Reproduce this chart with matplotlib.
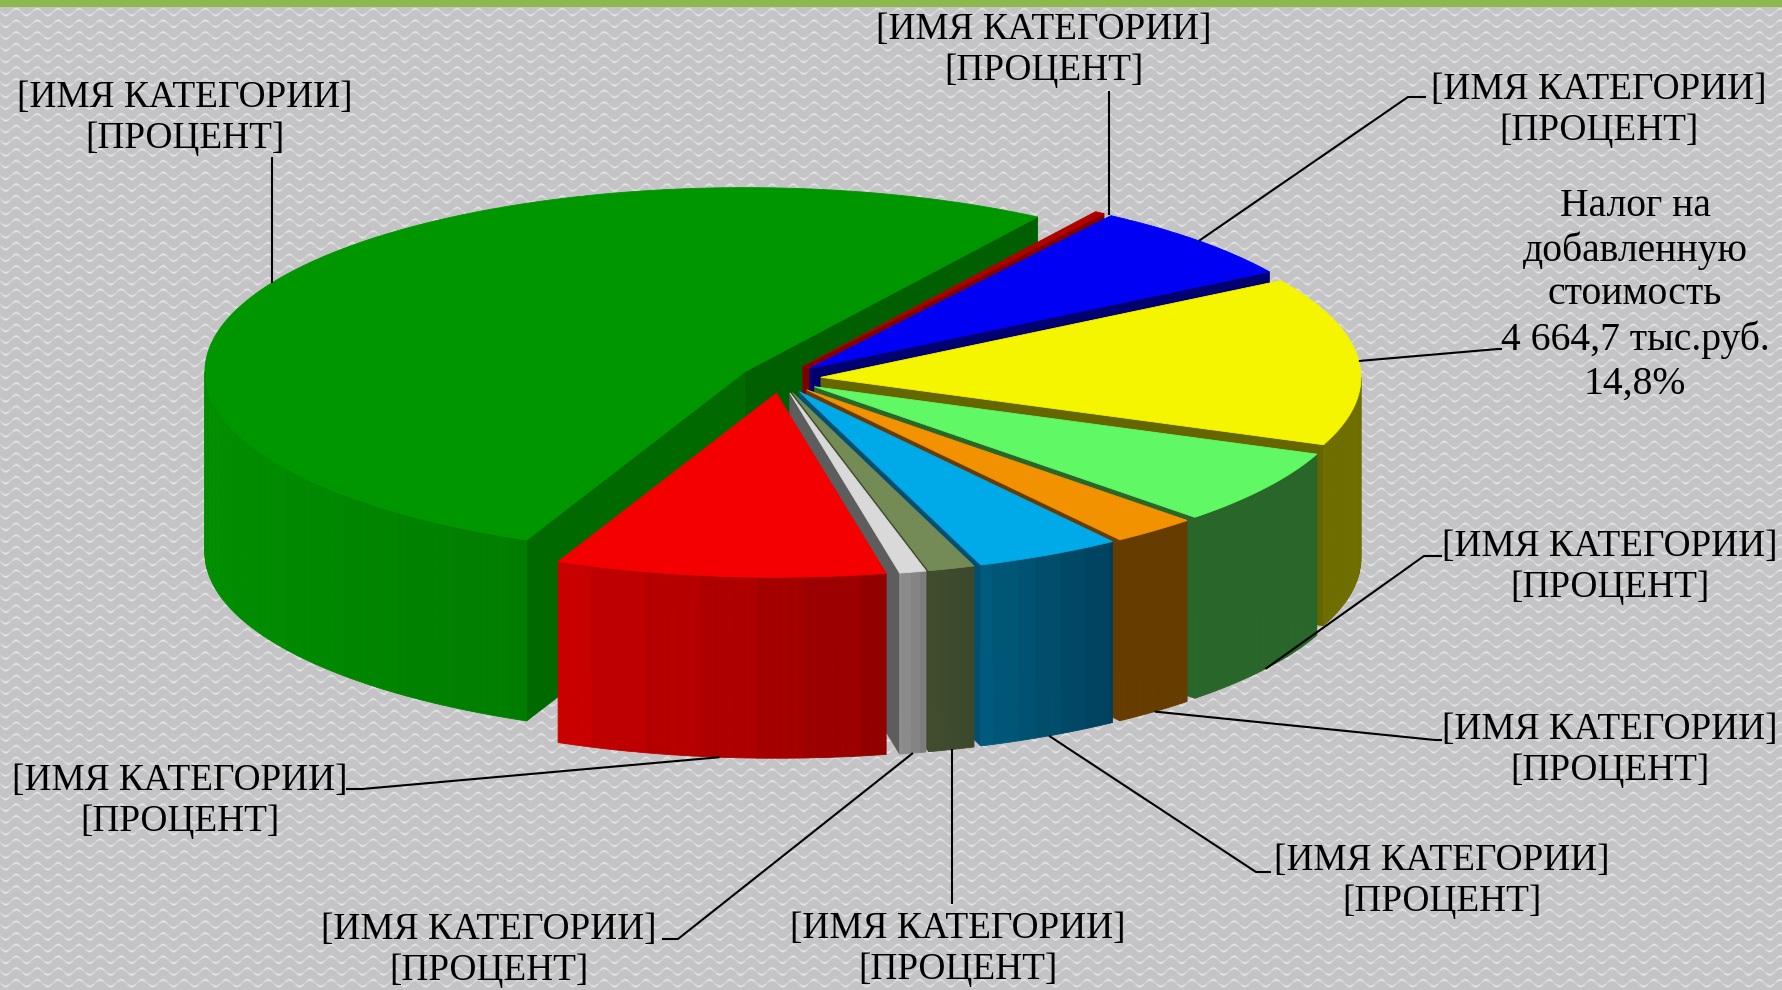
import numpy as np
import matplotlib
matplotlib.use('Agg')
import matplotlib.pyplot as plt
from matplotlib.colors import to_rgb

# share of every slice in percent, going counter-clockwise from the start angle
names = ['Налог на\nдобавленную\nстоимость\n4 664,7 тыс.руб.\n14,8%'] + ['[ИМЯ КАТЕГОРИИ]\n[ПРОЦЕНТ]'] * 9
shares = [14.8, 6.8, 0.3, 52.6, 9.9, 0.8, 1.4, 4.4, 2.6, 6.6]
start_angle = -21.5

top_colors = ['#f5f500', '#0000f5', '#b00000', '#009600', '#f50000',
              '#d9d9d9', '#748b56', '#00a9e8', '#f29200', '#60f864']
low_wall = ['#666600', '#00006e', '#800000', '#005f00', '#b00000',
            '#5d5d5d', '#3d4a2d', '#004f70', '#663c00', '#296629']
high_wall = ['#666600', '#00006e', '#800000', '#006a00', '#b00000',
             '#5d5d5d', '#3d4a2d', '#004f70', '#663c00', '#296629']
rim_from = ['#666600', '#00006e', '#800000', '#008e00', '#c80000',
            '#8e8e8e', '#3f4d2f', '#005a7d', '#663c00', '#296629']
rim_to = ['#6e6e00', '#00006e', '#800000', '#007c00', '#930000',
          '#7a7a7a', '#3b472b', '#003f5b', '#663c00', '#296629']

label_xy = [(1635, 295), (1599, 110), (1044, 50), (185, 118), (180, 801),
            (489, 950), (958, 949), (1442, 881), (1610, 750), (1610, 567)]
elbows = [[(1498, 349), (1502, 349)], [(1408, 97), (1426, 97)], [(1109, 91)], [(272, 157)],
          [(362, 789), (346, 789)], [(678, 939), (662, 939)], [(952, 904)],
          [(1256, 872), (1271, 872)], [(1435, 740), (1442, 740)], [(1424, 556), (1442, 556)]]
rim_side = ['top', 'top', 'top', 'top', 'bottom', 'bottom', 'bottom', 'bottom', 'bottom', 'bottom']
straight_up = [2, 3, 6]

CX, CY = 780.6, 378.6
RX, RY = 540.0, 184.0
DEPTH = 181.0
EXPLODE_X = 0.075
EXPLODE_Y = 0.08


def rim_point(center, angle):
    t = np.radians(angle)
    return center[0] + RX * np.cos(t), center[1] - RY * np.sin(t)


def quad(ax, pts, color, z):
    xs, ys = zip(*pts)
    ax.fill(xs, ys, facecolor=color, edgecolor=color, lw=0.6, zorder=z)


def background(ax):
    yy, xx = np.mgrid[0:990, 0:1783]
    phase = 2 * np.pi * xx / 21.0
    row = (yy - 3.3 * np.sin(phase) + 6) % 11.7 - 5.85
    glow = np.exp(-(row / 1.1) ** 2) * (0.35 + 0.65 * np.abs(np.sin(phase)))
    base = np.array(to_rgb('#c4c4c7'))
    light = np.array(to_rgb('#e6e6e7'))
    img = base + glow[..., None] * (light - base)
    ax.imshow(img, extent=(0, 1783, 990, 0), zorder=0, interpolation='bilinear', aspect='auto')
    ax.fill_between([0, 1783], 0, 7, color='#8cb84e', lw=0, zorder=1)


def draw_slice(ax, i, a0, a1, center):
    z = 10 + draw_order.index(i)
    apex_low = (center[0], center[1] + DEPTH)

    p0, p1 = rim_point(center, a0), rim_point(center, a1)
    if np.cos(np.radians(a0)) > 0:
        quad(ax, [center, p0, (p0[0], p0[1] + DEPTH), apex_low], low_wall[i], z)
    if np.cos(np.radians(a1)) < 0:
        quad(ax, [center, p1, (p1[0], p1[1] + DEPTH), apex_low], high_wall[i], z)

    # outer wall, in small flat bands so that it gets the stepped shading
    lo = np.array(to_rgb(rim_from[i]))
    hi = np.array(to_rgb(rim_to[i]))
    steps = np.arange(np.floor(a0), np.ceil(a1) + 1, 1.0)
    steps = np.clip(steps, a0, a1)
    for s0, s1 in zip(steps[:-1], steps[1:]):
        if np.sin(np.radians((s0 + s1) / 2)) >= 0 or s1 <= s0:
            continue
        q0, q1 = rim_point(center, s0), rim_point(center, s1)
        # colour runs from the left end of the wall to the right end
        span = np.cos(np.radians(max(a0, 180))), np.cos(np.radians(min(a1, 360)))
        frac = (np.cos(np.radians(s0)) - span[0]) / (span[1] - span[0])
        frac = np.round(np.clip(frac, 0, 1) * 6) / 6
        quad(ax, [q0, q1, (q1[0], q1[1] + DEPTH), (q0[0], q0[1] + DEPTH)],
             lo + frac * (hi - lo), z)

    ts = np.linspace(a0, a1, max(int(a1 - a0) * 2, 2))
    rim = [rim_point(center, t) for t in ts]
    quad(ax, [center] + rim, top_colors[i], z + 0.5)


draw_order = [3, 2, 1, 0, 9, 8, 7, 6, 5, 4]

fig = plt.figure(figsize=(17.83, 9.9), dpi=100)
ax = fig.add_axes([0, 0, 1, 1])
background(ax)

sweep = np.array(shares) / sum(shares) * 360
starts = start_angle + np.concatenate([[0], np.cumsum(sweep)[:-1]])
centers = []
for i in range(len(shares)):
    mid = np.radians(starts[i] + sweep[i] / 2)
    centers.append((CX + EXPLODE_X * RX * np.cos(mid), CY - EXPLODE_Y * RY * np.sin(mid)))

for i in draw_order:
    draw_slice(ax, i, starts[i], starts[i] + sweep[i], centers[i])

for i in range(len(shares)):
    x, y = rim_point(centers[i], starts[i] + sweep[i] / 2)
    if i in straight_up:
        # leader drops straight down from the elbow onto the rim
        x = elbows[i][0][0]
        bulge = RY * np.sqrt(1 - ((x - centers[i][0]) / RX) ** 2)
        y = centers[i][1] + (bulge if rim_side[i] == 'bottom' else -bulge)
    if rim_side[i] == 'bottom':
        y += DEPTH
    pts = [(x, y)] + elbows[i]
    ax.plot(*zip(*pts), color='black', lw=1.5, zorder=40, solid_capstyle='butt')
    ax.text(label_xy[i][0], label_xy[i][1], names[i], ha='center', va='center', color='black',
            family='Liberation Serif', fontsize=26.8 if i else 28.5, linespacing=1.23, zorder=41)

ax.set_xlim(0, 1783)
ax.set_ylim(990, 0)
ax.axis('off')
fig.savefig('out.png', dpi=100)
